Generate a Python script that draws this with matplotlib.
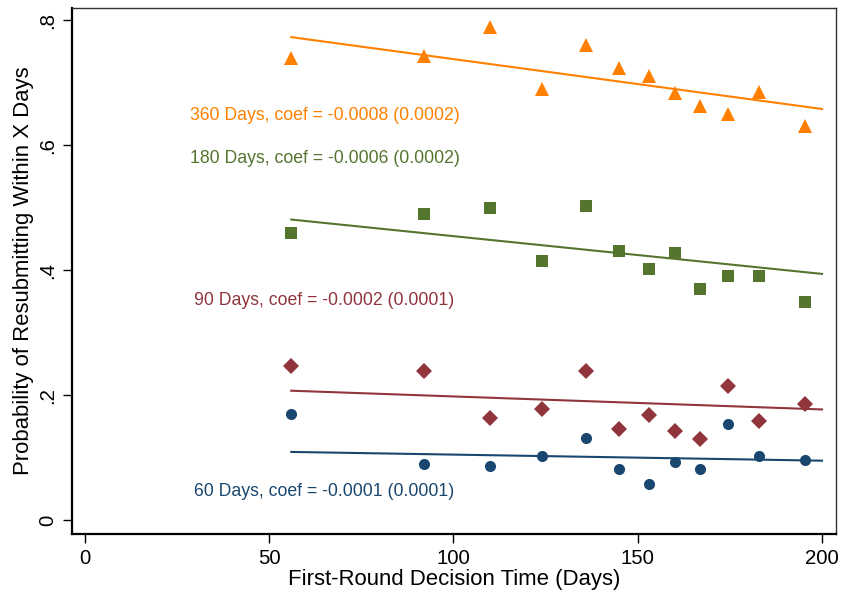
import matplotlib
matplotlib.use("Agg")
import matplotlib.pyplot as plt
import numpy as np

plt.rcParams['font.family'] = ['Liberation Sans', 'DejaVu Sans']

# Data
decision_time = [56, 92, 110, 124, 136, 145, 153, 160, 167, 174.5, 183, 195.5]
p360 = [0.740, 0.743, 0.789, 0.690, 0.761, 0.723, 0.711, 0.683, 0.663, 0.650, 0.685, 0.630]
p180 = [0.460, 0.490, 0.500, 0.415, 0.502, 0.431, 0.402, 0.428, 0.370, 0.390, 0.390, 0.349]
p90 = [0.247, 0.238, 0.163, 0.178, 0.238, 0.146, 0.168, 0.143, 0.130, 0.215, 0.158, 0.185]
p60 = [0.169, 0.090, 0.086, 0.103, 0.132, 0.081, 0.057, 0.093, 0.081, 0.153, 0.103, 0.096]

fit_x = [56, 200]
fit360 = [0.773, 0.658]
fit180 = [0.481, 0.394]
fit90 = [0.207, 0.177]
fit60 = [0.109, 0.095]

labels = ["360 Days, coef = -0.0008 (0.0002)",
          "180 Days, coef = -0.0006 (0.0002)",
          "90 Days, coef = -0.0002 (0.0001)",
          "60 Days, coef = -0.0001 (0.0001)"]
label_y = [0.647, 0.578, 0.351, 0.046]

xticks = [0, 50, 100, 150, 200]
yticks = [0, 0.2, 0.4, 0.6, 0.8]
yticklabels = ["0", ".2", ".4", ".6", ".8"]

c_orange = "#ff8000"
c_green = "#55752f"
c_maroon = "#90353b"
c_navy = "#1a476f"

fig = plt.figure(figsize=(8.43, 5.95), dpi=100)
ax = fig.add_axes([0.0854, 0.1025, 0.9063, 0.8841])

ax.plot(decision_time, p360, linestyle='none', marker='^', color=c_orange, ms=10, mew=0)
ax.plot(fit_x, fit360, color=c_orange, lw=1.5)
ax.plot(decision_time, p180, linestyle='none', marker='s', color=c_green, ms=8.4, mew=0)
ax.plot(fit_x, fit180, color=c_green, lw=1.5)
ax.plot(decision_time, p90, linestyle='none', marker='D', color=c_maroon, ms=8, mew=0)
ax.plot(fit_x, fit90, color=c_maroon, lw=1.5)
ax.plot(decision_time, p60, linestyle='none', marker='o', color=c_navy, ms=8, mew=0)
ax.plot(fit_x, fit60, color=c_navy, lw=1.5)

for lab, yy, col in zip(labels, label_y, [c_orange, c_green, c_maroon, c_navy]):
    ax.text(65, yy, lab, color=col, ha='center', va='center', fontsize=12.7)

ax.set_xlim(-3.5, 203.8)
ax.set_ylim(-0.0224, 0.8197)
ax.set_xticks(xticks)
ax.set_xticklabels([str(t) for t in xticks], fontsize=14.7)
ax.set_yticks(yticks)
ax.set_yticklabels(yticklabels, fontsize=14.7, rotation=90, va='center')
ax.tick_params(direction='out', length=6.5, width=1.0, pad=4)

for s in ['left', 'bottom']:
    ax.spines[s].set_linewidth(1.6)
    ax.spines[s].set_color('black')
for s in ['top', 'right']:
    ax.spines[s].set_linewidth(1.0)
    ax.spines[s].set_color('#333333')

ax.set_xlabel("First-Round Decision Time (Days)", fontsize=15.9, labelpad=1)
ax.set_ylabel("Probability of Resubmitting Within X Days", fontsize=15.9, labelpad=3)

fig.savefig("out.png", dpi=100)
